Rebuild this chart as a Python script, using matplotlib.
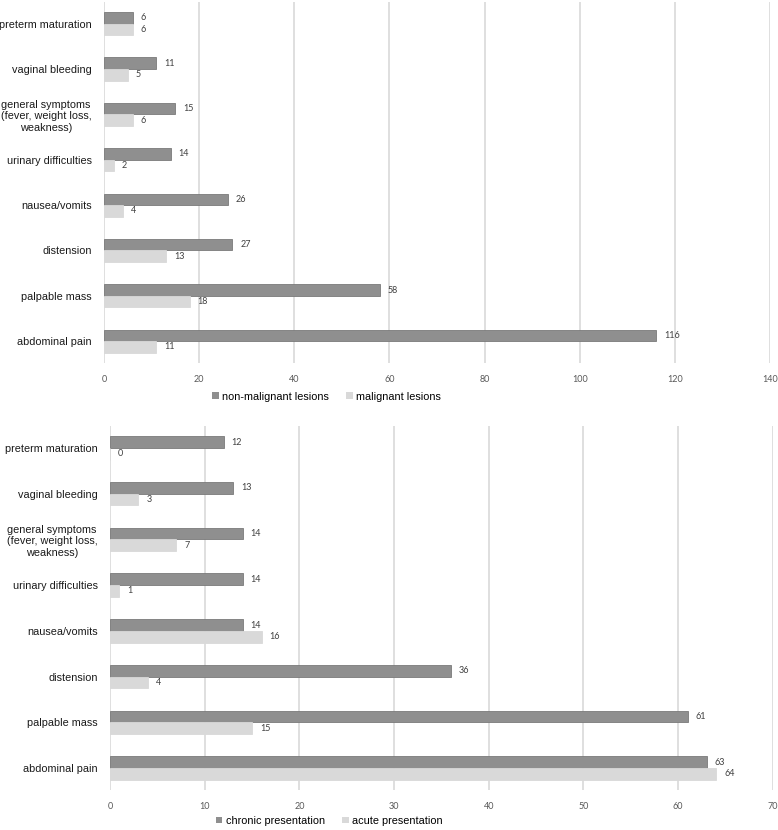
import matplotlib.pyplot as plt
from matplotlib.patches import Patch

plt.rcParams['font.family'] = ['Liberation Sans', 'DejaVu Sans']

# categories, bottom to top
categories = ['abdominal pain', 'palpable mass', 'distension', 'nausea/vomits',
              'urinary difficulties', 'general symptoms\n(fever, weight loss,\nweakness)',
              'vaginal bleeding', 'preterm maturation']

# top panel
non_malignant = [116, 58, 27, 26, 14, 15, 11, 6]
malignant = [11, 18, 13, 4, 2, 6, 5, 6]
top_ticks = [0, 20, 40, 60, 80, 100, 120, 140]

# bottom panel
chronic = [63, 61, 36, 14, 14, 14, 13, 12]
acute = [64, 15, 4, 16, 1, 7, 3, 0]
bottom_ticks = [0, 10, 20, 30, 40, 50, 60, 70]

DARK = '#8f8f8f'
LIGHT = '#d9d9d9'
GRID = '#d9d9d9'
NUM_FONT = ['Lato', 'DejaVu Sans']


def draw_panel(ax, first, second, ticks, names, legend_xy, fig):
    '''Draws one grouped horizontal bar panel in Excel style'''
    h = 0.255
    y = range(len(categories))
    ax.barh([i + h / 2 for i in y], first, height=h, color=DARK, edgecolor='#7a7a7a', linewidth=0.6, zorder=3)
    ax.barh([i - h / 2 for i in y], second, height=h, color=LIGHT, edgecolor=LIGHT, linewidth=0.6, zorder=3)

    # value labels
    off = ticks[-1] * 0.012
    for i, v in enumerate(first):
        ax.text(v + off, i + h / 2, str(v), va='center', ha='left', fontsize=6.5, color='#404040', family=NUM_FONT)
    for i, v in enumerate(second):
        ax.text(v + off, i - h / 2, str(v), va='center', ha='left', fontsize=6.5, color='#404040', family=NUM_FONT)

    ax.set_xlim(ticks[0], ticks[-1])
    ax.set_ylim(-0.48, len(categories) - 0.52)
    ax.set_xticks(ticks)
    ax.set_xticklabels([str(t) for t in ticks], family=NUM_FONT, fontsize=6.5, color='#595959')
    ax.set_yticks(list(y))
    ax.set_yticklabels(categories, fontsize=7.8, color='#1a1a1a', multialignment='center')
    ax.tick_params(axis='x', length=0, pad=9)
    ax.tick_params(axis='y', length=0, pad=9)
    ax.grid(axis='x', color=GRID, linewidth=1.2, zorder=0)
    for s in ax.spines.values():
        s.set_visible(False)

    handles = [Patch(facecolor=DARK, edgecolor='none'), Patch(facecolor=LIGHT, edgecolor='none')]
    fig.legend(handles, names, loc='center', bbox_to_anchor=legend_xy, ncol=2, frameon=False,
               fontsize=7.8, handlelength=0.6, handleheight=0.6, handletextpad=0.3, columnspacing=1.6)


fig = plt.figure(figsize=(7.78, 8.3), dpi=100)
ax1 = fig.add_axes([0.1337, 0.5627, 0.856, 0.435])
ax2 = fig.add_axes([0.1414, 0.0482, 0.852, 0.4386])

draw_panel(ax1, non_malignant, malignant, top_ticks,
           ['non-malignant lesions', 'malignant lesions'], (0.42, 0.522), fig)
draw_panel(ax2, chronic, acute, bottom_ticks,
           ['chronic presentation', 'acute presentation'], (0.423, 0.011), fig)

fig.savefig('out.png', dpi=100)
